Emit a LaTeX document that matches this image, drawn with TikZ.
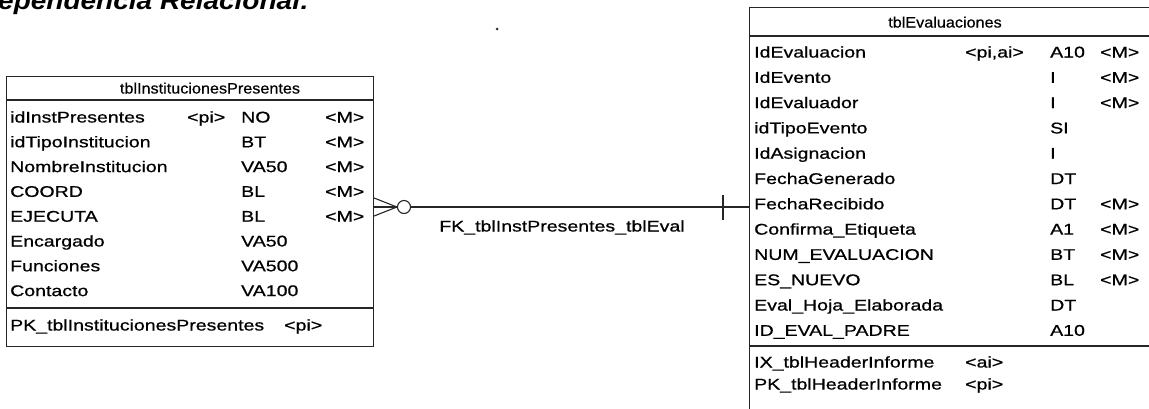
\documentclass[tikz,border=0pt]{standalone}
\usepackage{fontspec}
\setmainfont{Liberation Sans}
\newfontfamily\fieldfont{Liberation Sans}[FakeStretch=1.26,FakeBold=0.7]
\newfontfamily\headfont{Liberation Sans}[FakeStretch=1.08,FakeBold=0.5]
\newfontfamily\titlefont{Liberation Sans}[FakeStretch=1.12]
\begin{document}
\begin{tikzpicture}[x=1pt,y=-1pt,
  tablebox/.style={draw=black!85, line width=1.1pt, inner sep=0pt, anchor=north west},
  rule/.style={draw=black!85, line width=1.1pt},
  conn/.style={draw=black!85, line width=1.1pt},
  fld/.style={anchor=base west, inner sep=0pt, font=\fieldfont\fontsize{15.5}{18}\selectfont},
  hdr/.style={anchor=base, inner sep=0pt, font=\headfont\fontsize{15}{17}\selectfont}]
\useasboundingbox (0,0) rectangle (1149,408);
\clip (0,0) rectangle (1149,408);
\fill[white] (0,0) rectangle (1149,408);

% title (cut at top)
\node[anchor=base west, inner sep=0pt, font=\titlefont\bfseries\itshape\fontsize{25}{28}\selectfont] (title) at (-2,9) {ependencia Relacional:};
\fill[black!80] (497,29) circle (1.5pt);

% ---------- left table ----------
\node[tablebox, minimum width=367pt, minimum height=270pt] (inst) at (6,76) {};
\coordinate (lsep1) at (6,100);
\coordinate (lsep2) at (6,308);
\draw[rule] (lsep1) -- (inst.east |- lsep1);
\draw[rule] (lsep2) -- (inst.east |- lsep2);
\node[hdr] (insthdr) at (210,93.5) {tblInstitucionesPresentes};
\foreach \n/\k/\t/\m [count=\i from 0] in {
  idInstPresentes/{<pi>}/NO/{<M>},
  idTipoInstitucion/{}/BT/{<M>},
  NombreInstitucion/{}/VA50/{<M>},
  COORD/{}/BL/{<M>},
  EJECUTA/{}/BL/{<M>},
  Encargado/{}/VA50/{},
  Funciones/{}/VA500/{},
  Contacto/{}/VA100/{}} {
  \pgfmathsetmacro{\yy}{117+24.8*\i+5.5}
  \node[fld] (ln\i) at (10,\yy) {\n};
  \node[fld] (lk\i) at (187,\yy) {\k};
  \node[fld] (lt\i) at (241,\yy) {\t};
  \node[fld] (lm\i) at (325,\yy) {\m};
}
\node[fld] (lpk) at (10,330.5) {PK\_tblInstitucionesPresentes};
\node[fld] (lpkk) at (284,330.5) {<pi>};

% ---------- right table ----------
\node[tablebox, minimum width=410pt, minimum height=405pt] (eval) at (749,7) {};
\coordinate (rsep1) at (749,36);
\coordinate (rsep2) at (749,346);
\draw[rule] (rsep1) -- (eval.east |- rsep1);
\draw[rule] (rsep2) -- (eval.east |- rsep2);
\node[hdr] (evalhdr) at (945,27.5) {tblEvaluaciones};
\foreach \n/\k/\t/\m [count=\i from 0] in {
  IdEvaluacion/{<pi,ai>}/A10/{<M>},
  IdEvento/{}/I/{<M>},
  IdEvaluador/{}/I/{<M>},
  idTipoEvento/{}/SI/{},
  IdAsignacion/{}/I/{},
  FechaGenerado/{}/DT/{},
  FechaRecibido/{}/DT/{<M>},
  Confirma\_Etiqueta/{}/A1/{<M>},
  NUM\_EVALUACION/{}/BT/{<M>},
  ES\_NUEVO/{}/BL/{<M>},
  Eval\_Hoja\_Elaborada/{}/DT/{},
  ID\_EVAL\_PADRE/{}/A10/{}} {
  \pgfmathsetmacro{\yy}{52+25.3*\i+5.5}
  \node[fld] (rn\i) at (754,\yy) {\n};
  \node[fld] (rk\i) at (965,\yy) {\k};
  \node[fld] (rt\i) at (1050,\yy) {\t};
  \node[fld] (rm\i) at (1100,\yy) {\m};
}
\node[fld] (rix) at (754,367.5) {IX\_tblHeaderInforme};
\node[fld] (rixk) at (965,367.5) {<ai>};
\node[fld] (rpk) at (754,389.5) {PK\_tblHeaderInforme};
\node[fld] (rpkk) at (965,389.5) {<pi>};

% ---------- relationship ----------
\node[circle, draw=black!85, line width=1.1pt, minimum size=13pt, inner sep=0pt] (opt) at (404,207) {};
\coordinate (cf1) at (0,198);
\coordinate (cf2) at (0,207);
\coordinate (cf3) at (0,216);
\draw[conn] (inst.east |- cf1) -- (opt.west);
\draw[conn] (inst.east |- cf2) -- (opt.west);
\draw[conn] (inst.east |- cf3) -- (opt.west);
\draw[conn] (opt.east) -- (eval.west |- opt);
\draw[conn] (723,195) -- (723,220);
\node[anchor=base, inner sep=0pt, font=\fieldfont\fontsize{15.5}{18}\selectfont] (fklabel) at (562,231.5) {FK\_tblInstPresentes\_tblEval};
\end{tikzpicture}
\end{document}
